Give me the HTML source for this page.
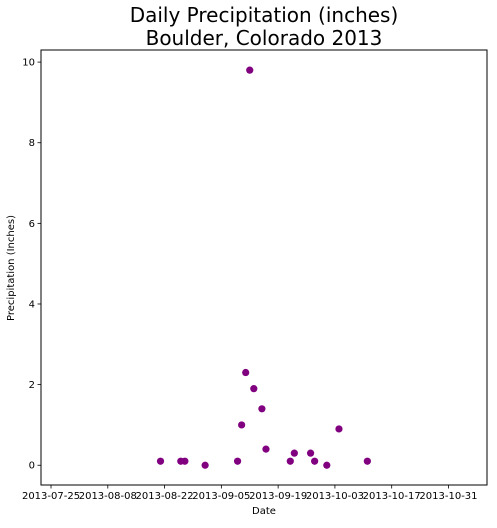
<!DOCTYPE html>
<html><head><meta charset="utf-8"><style>
html,body{margin:0;padding:0;background:#fff;}
svg text{font-family:"DejaVu Sans","Liberation Sans",sans-serif;fill:#000;}
</style></head><body>
<svg id="chart" width="497" height="523" viewBox="0 0 497 523" xmlns="http://www.w3.org/2000/svg">
<text x="264" y="22" font-size="20" text-anchor="middle">Daily Precipitation (inches)</text>
<text x="264" y="45" font-size="20" text-anchor="middle">Boulder, Colorado 2013</text>
<g id="plot"></g>
<text x="264" y="514" font-size="10" text-anchor="middle">Date</text>
<text x="14" y="268" font-size="10" text-anchor="middle" transform="rotate(-90 14 268)">Precipitation (Inches)</text>
</svg>
<script>
// days since 2013-07-25
const dayOffsets = [27,32,33,38,46,47,48,49,50,52,53,59,60,64,65,68,71,78];
const precipValues = [0.1,0.1,0.1,0,0.1,1.0,2.3,9.8,1.9,1.4,0.4,0.1,0.3,0.3,0.1,0,0.9,0.1];
const xTickDays = [0,14,28,42,56,70,84,98];
const xTickLabels = ["2013-07-25","2013-08-08","2013-08-22","2013-09-05","2013-09-19","2013-10-03","2013-10-17","2013-10-31"];
const yTickValues = [0,2,4,6,8,10];

const L=41,R=487,T=50,B=485;
const xDom=[-2.47,107.5], yDom=[-0.49,10.3];
function xs(d){return L+(d-xDom[0])/(xDom[1]-xDom[0])*(R-L);}
function ys(v){return B-(v-yDom[0])/(yDom[1]-yDom[0])*(B-T);}
const NS="http://www.w3.org/2000/svg";
const g=document.getElementById('plot');
function mk(tag,attrs){const e=document.createElementNS(NS,tag);for(const k in attrs)e.setAttribute(k,attrs[k]);g.appendChild(e);return e;}

dayOffsets.forEach((d,i)=>{
  const c=mk('circle',{cx:xs(d),cy:ys(precipValues[i]),r:3.6,fill:'#800080'});
  
  
});
const frame=mk('rect',{x:L,y:T,width:R-L,height:B-T,fill:'none',stroke:'#000','stroke-width':1});


xTickDays.forEach((d,i)=>{
  const x=xs(d);
  const t=mk('line',{x1:x,x2:x,y1:B,y2:B+3.5,stroke:'#000','stroke-width':0.8});
  
  
  const l=mk('text',{x:x,y:B+14,'font-size':10,'text-anchor':'middle'});
  l.textContent=xTickLabels[i];
  
  
});
yTickValues.forEach(v=>{
  const y=ys(v);
  const t=mk('line',{x1:L-3.5,x2:L,y1:y,y2:y,stroke:'#000','stroke-width':0.8});
  
  
  const l=mk('text',{x:L-6,y:y+3.5,'font-size':10,'text-anchor':'end'});
  l.textContent=String(v);
  
  
});
</script>
</body></html>
